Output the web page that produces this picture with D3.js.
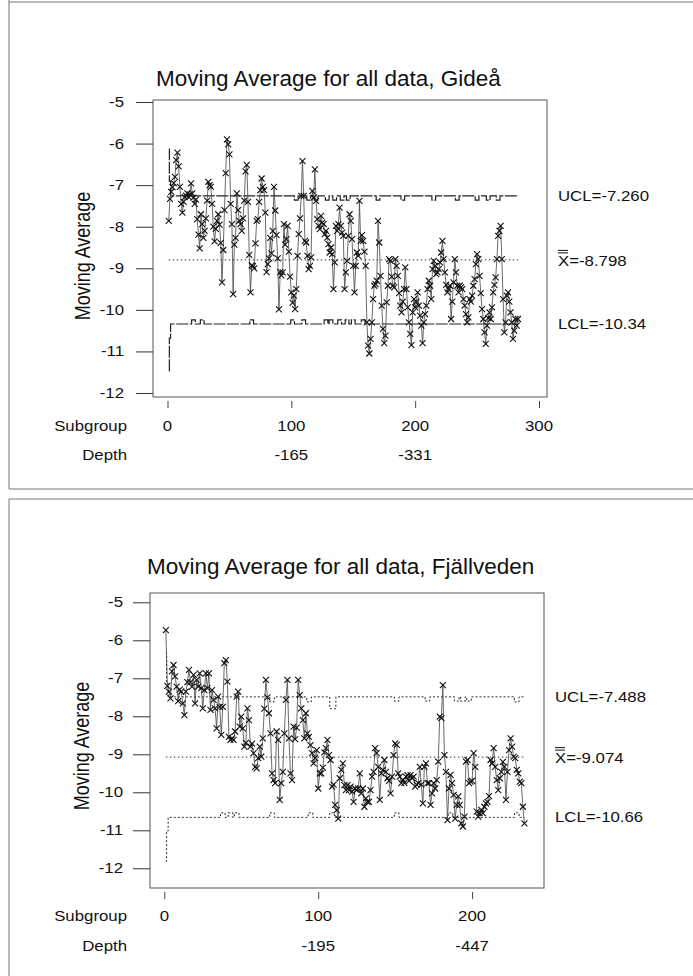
<!DOCTYPE html>
<html>
<head>
<meta charset="utf-8">
<script src="https://cdn.jsdelivr.net/npm/d3@7"></script>
<style>
  body { margin: 0; background: #fff; }
  svg { display: block; }
  text { font-family: "Liberation Sans", Arial, sans-serif; fill: #111; }
</style>
</head>
<body>
<svg id="chart"></svg>
<script>
// ---- Gideå: moving average per subgroup (subgroup 1..283)
const gideaValues = [
  -7.86, -7.33, -7.16, -7.05, -6.95, -6.80, -6.40, -6.22, -6.55, -7.04,
  -7.45, -7.66, -7.40, -7.29, -7.25, -7.20, -7.28, -7.22, -6.96, -7.20,
  -7.30, -7.45, -7.35, -7.82, -8.19, -8.52, -7.70, -7.94, -8.27, -8.10,
  -7.80, -7.37, -6.92, -7.00, -7.04, -7.45, -8.00, -8.35, -8.05, -7.86,
  -7.70, -7.95, -8.39, -9.34, -8.56, -7.60, -6.71, -5.90, -6.02, -6.26,
  -7.45, -7.94, -9.62, -8.43, -8.27, -7.20, -7.60, -7.86, -7.94, -8.10,
  -7.80, -7.37, -6.67, -6.51, -7.40, -8.68, -9.58, -8.93, -8.95, -9.00,
  -8.40, -7.86, -7.82, -7.40, -7.12, -6.84, -7.04, -7.12, -7.66, -9.09,
  -8.90, -8.76, -8.27, -8.64, -8.10, -7.04, -7.61, -8.20, -8.76, -9.99,
  -9.09, -9.17, -9.10, -7.94, -8.43, -8.30, -7.98, -8.60, -9.20, -9.58,
  -9.83, -9.66, -9.98, -9.50, -8.70, -8.18, -7.80, -7.26, -6.42, -7.26,
  -8.34, -8.38, -8.70, -9.02, -8.94, -8.74, -7.14, -7.30, -6.62, -7.38,
  -7.82, -7.98, -8.06, -7.74, -7.90, -7.94, -8.18, -8.10, -8.26, -8.42,
  -8.62, -8.50, -8.66, -9.50, -8.86, -7.98, -8.10, -7.94, -7.54, -7.98,
  -8.14, -8.22, -9.50, -9.10, -8.82, -8.22, -7.70, -7.86, -8.30, -8.94,
  -9.58, -8.94, -8.62, -8.70, -7.38, -8.34, -8.20, -8.34, -8.60, -8.94,
  -10.30, -10.86, -11.05, -10.70, -10.30, -9.74, -9.42, -9.38, -9.30, -7.86,
  -8.38, -9.18, -9.90, -10.46, -10.80, -10.62, -9.82, -9.42, -8.78, -8.82,
  -9.20, -9.42, -9.46, -8.78, -8.94, -9.18, -9.60, -9.90, -10.06, -9.80,
  -9.50, -8.98, -9.50, -9.94, -10.30, -10.58, -10.85, -10.06, -9.74, -9.94,
  -9.80, -9.58, -9.90, -10.14, -10.38, -10.80, -10.30, -10.10, -9.90, -9.50,
  -9.30, -9.42, -9.74, -9.02, -8.82, -8.94, -9.14, -9.10, -9.02, -8.86,
  -8.62, -8.34, -8.78, -9.10, -9.40, -9.58, -9.50, -9.42, -10.22, -9.80,
  -9.34, -8.78, -9.10, -9.42, -9.58, -9.42, -9.46, -9.50, -9.74, -9.90,
  -10.10, -10.30, -10.18, -9.74, -9.80, -9.66, -9.42, -9.26, -8.90, -8.66,
  -8.78, -9.18, -9.60, -9.98, -10.22, -10.54, -10.82, -10.38, -10.20, -10.06,
  -10.22, -9.94, -9.58, -9.40, -9.22, -8.78, -8.22, -8.10, -7.98, -8.78,
  -9.74, -10.54, -10.30, -9.66, -9.58, -9.80, -10.06, -10.30, -10.70, -10.50,
  -10.22, -10.38, -10.22
];
const gideaCenter = -8.798;
const gideaUCL = -7.260;
const gideaLCL = -10.34;
const gideaUCLHead = [-6.13, -6.91];     // wider limits for the first subgroups
const gideaLCLHead = [-11.46, -10.68];
const gideaUCLNotches = [[103,105,-7.36],[113,115,-7.36],[119,121,-7.36],[128,130,-7.36],[134,136,-7.36],
  [140,142,-7.36],[145,147,-7.36],[169,171,-7.36],[189,191,-7.36],[214,216,-7.36],[233,235,-7.36],
  [249,251,-7.36],[258,260,-7.36],[266,268,-7.36]];
const gideaLCLNotches = [[20,22,-10.24],[27,29,-10.24],[67,69,-10.24],[100,102,-10.24],[109,111,-10.24],
  [127,129,-10.24],[131,133,-10.24],[138,140,-10.24],[144,146,-10.24],[149,151,-10.24],[157,159,-10.24]];
const gideaSubgroupTicks = [0, 100, 200, 300];
const gideaDepthTicks = [100, 200];
const gideaDepthLabels = ["-165", "-331"];

// ---- Fjällveden: moving average per subgroup (subgroup 1..234)
const fjallValues = [
  -5.73, -7.20, -7.35, -7.53, -6.82, -6.65, -6.95, -7.22, -7.60, -7.30,
  -7.35, -7.66, -7.97, -7.35, -7.10, -6.78, -7.10, -7.22, -6.91, -7.66,
  -7.04, -7.22, -6.87, -7.26, -7.79, -7.31, -6.87, -7.26, -6.87, -7.83,
  -7.31, -7.57, -7.79, -8.32, -7.48, -7.75, -8.49, -7.75, -6.60, -6.52,
  -7.09, -8.54, -8.62, -8.58, -8.62, -8.40, -7.48, -7.35, -8.27, -8.01,
  -8.32, -8.80, -8.70, -7.79, -8.10, -8.80, -8.72, -8.97, -9.33, -9.37,
  -9.10, -8.80, -9.06, -8.58, -7.80, -7.04, -7.50, -7.92, -8.45, -9.50,
  -9.68, -9.76, -8.40, -8.62, -10.20, -9.76, -9.46, -8.45, -7.57, -7.04,
  -8.58, -9.50, -9.68, -8.27, -8.60, -8.30, -7.04, -7.44, -7.79, -8.10,
  -8.58, -7.92, -8.45, -8.54, -8.76, -8.97, -9.24, -9.10, -8.89, -9.90,
  -9.50, -9.50, -9.35, -8.95, -8.84, -8.62, -9.02, -9.15, -9.85, -9.80,
  -10.33, -10.47, -10.69, -9.63, -9.41, -9.24, -9.81, -9.94, -9.81, -9.94,
  -9.85, -9.98, -10.25, -9.90, -9.94, -9.90, -9.50, -10.03, -9.90, -10.38,
  -10.16, -10.25, -10.25, -9.94, -9.59, -9.46, -8.84, -8.97, -9.33, -10.20,
  -9.50, -9.41, -9.15, -9.46, -9.63, -9.70, -10.03, -9.59, -9.02, -8.71,
  -8.75, -9.50, -9.59, -9.76, -9.68, -9.75, -9.59, -9.55, -9.70, -9.55,
  -9.63, -9.59, -9.85, -9.80, -9.76, -9.33, -9.80, -10.29, -9.33, -9.24,
  -9.76, -9.76, -10.33, -10.03, -9.76, -9.90, -9.68, -9.19, -8.01, -8.05,
  -7.18, -9.02, -9.46, -10.73, -9.90, -9.54, -9.76, -10.07, -10.69, -10.33,
  -10.11, -10.33, -10.82, -10.90, -10.64, -9.19, -9.15, -9.76, -9.72, -9.70,
  -8.97, -9.33, -10.51, -10.64, -10.55, -10.46, -10.55, -10.38, -10.29, -10.25,
  -10.10, -9.15, -9.24, -8.84, -9.33, -9.68, -9.94, -9.63, -9.46, -9.20,
  -9.33, -10.20, -9.46, -8.89, -8.58, -8.80, -9.06, -9.10, -9.41, -9.50,
  -9.72, -9.76, -10.38, -10.82
];
const fjallCenter = -9.074;
const fjallUCL = -7.488;
const fjallLCL = -10.66;
const fjallUCLHead = [-6.33, -7.13];
const fjallLCLHead = [-11.82, -11.02];
const fjallUCLNotches = [[69,71,-7.62],[93,95,-7.62],[108,111,-7.80],[150,152,-7.60],[170,172,-7.60],
  [189,191,-7.60],[193,195,-7.60],[197,199,-7.60],[228,230,-7.62]];
const fjallLCLNotches = [[37,39,-10.54],[42,44,-10.54],[46,48,-10.54],[69,71,-10.54],[94,96,-10.54],
  [108,110,-10.54],[150,152,-10.54],[185,187,-10.54],[228,230,-10.54]];
const fjallSubgroupTicks = [0, 100, 200];
const fjallDepthTicks = [100, 200];
const fjallDepthLabels = ["-195", "-447"];

const yTicks = [-5, -6, -7, -8, -9, -10, -11, -12];

const width = 693, height = 976;
const stretch = "scale(1.2,1)";   // the scanned labels are wider than tall
const svg = d3.select("#chart").attr("width", width).attr("height", height);

// scanned page borders
const border = svg.append("g").attr("stroke", "#777").attr("stroke-width", 1).attr("fill", "none");
border.append("path").attr("d", "M9,2H693M9,0V489M9,489H693");
border.append("path").attr("d", "M9,499H693M9,499V976");

function label(g, x, y, txt, size, anchor) {
  return g.append("text")
    .attr("transform", `translate(${x},${y}) ${stretch}`)
    .attr("text-anchor", anchor || "start")
    .style("font-size", size + "px")
    .text(txt);
}

function limitSeries(n, base, head, notches) {
  const pts = [];
  for (let s = 1; s <= n; s++) {
    let v = base;
    if (s <= head.length) v = head[s - 1];
    for (const [a, b, lv] of notches) if (s >= a && s <= b) v = lv;
    pts.push([s, v]);
  }
  return pts;
}

function drawPanel(p) {
  const g = svg.append("g");
  const x = d3.scaleLinear().domain(p.xDomain).range(p.xRange);
  const y = d3.scaleLinear().domain([-5, -12]).range(p.yRange);
  const n = p.values.length;

  g.append("text")
    .attr("x", p.titleX).attr("y", p.titleY)
    .style("font-size", "22.5px")
    .text(p.title);

  // frame
  g.append("rect")
    .attr("x", p.frame[0]).attr("y", p.frame[1])
    .attr("width", p.frame[2] - p.frame[0]).attr("height", p.frame[3] - p.frame[1])
    .attr("fill", "none").attr("stroke", "#555").attr("stroke-width", 1);

  // y axis
  const yAxis = g.append("g")
    .attr("transform", `translate(${p.frame[0]},0)`)
    .call(d3.axisLeft(y).tickValues(yTicks).tickSize(17).tickFormat(d => String(d)));
  yAxis.select(".domain").remove();
  yAxis.selectAll("line").attr("stroke", "#333");
  yAxis.selectAll("text")
    .attr("x", 0)
    .attr("transform", `translate(${p.yLabelRight - p.frame[0]},0) ${stretch}`)
    .style("font-size", "14px")
    .style("font-family", "'Liberation Sans', Arial, sans-serif")
    .attr("fill", "#111");

  g.append("text")
    .attr("transform", `translate(${p.yLabelX},${p.yLabelY}) ${stretch} rotate(-90)`)
    .attr("text-anchor", "middle")
    .style("font-size", "18px")
    .text("Moving Average");

  // x ticks (below the frame) and label rows
  const xAxis = g.append("g")
    .attr("transform", `translate(0,${p.frame[3] + 4})`)
    .call(d3.axisBottom(x).tickValues(p.subgroupTicks).tickSize(7).tickFormat(""));
  xAxis.select(".domain").remove();
  xAxis.selectAll("line").attr("stroke", "#444");

  label(g, 127, p.row1Y, "Subgroup", 14, "end");
  label(g, 127, p.row2Y, "Depth", 14, "end");
  p.subgroupTicks.forEach(d => label(g, x(d), p.row1Y, String(d), 14, "middle"));
  p.depthTicks.forEach((d, i) => label(g, x(d), p.row2Y, p.depthLabels[i], 14, "middle"));

  // control limits
  const stepLine = d3.line().x(d => x(d[0])).y(d => y(d[1])).curve(d3.curveStep);
  const ucl = limitSeries(n, p.ucl, p.uclHead, p.uclNotches);
  const lcl = limitSeries(n, p.lcl, p.lclHead, p.lclNotches);
  g.append("path").datum(ucl).attr("d", stepLine)
    .attr("fill", "none").attr("stroke", "#222").attr("stroke-width", p.limitWidth)
    .attr("stroke-dasharray", p.limitDash);
  g.append("path").datum(lcl).attr("d", stepLine)
    .attr("fill", "none").attr("stroke", "#222").attr("stroke-width", p.limitWidth)
    .attr("stroke-dasharray", p.limitDash);
  g.append("line")
    .attr("x1", x(1)).attr("x2", x(n))
    .attr("y1", y(p.center)).attr("y2", y(p.center))
    .attr("stroke", "#333").attr("stroke-width", 1).attr("stroke-dasharray", "1.5,2.5");

  // moving average series
  const pts = p.values.map((v, i) => [i + 1, v]);
  g.append("path").datum(pts)
    .attr("d", d3.line().x(d => x(d[0])).y(d => y(d[1])))
    .attr("fill", "none").attr("stroke", "#444").attr("stroke-width", 0.8);
  g.selectAll(".mark").data(pts).join("path")
    .attr("transform", d => `translate(${x(d[0])},${y(d[1])})`)
    .attr("d", "M-3,-3L3,3M-3,3L3,-3")
    .attr("stroke", "#111").attr("stroke-width", 1.1).attr("fill", "none");

  // limit labels
  const lx = p.frame[2] + 11;
  label(g, lx, y(p.ucl) + 5, "UCL=" + p.uclText, 14);
  label(g, lx, y(p.center) + 6, "X=" + p.centerText, 14);
  g.append("path")
    .attr("d", `M${lx},${y(p.center) - 9.5}h10M${lx},${y(p.center) - 7}h10`)
    .attr("stroke", "#111").attr("stroke-width", 1);
  label(g, lx, y(p.lcl) + 5, "LCL=" + p.lclText, 14);
}

drawPanel({
  title: "Moving Average for all data, Gideå",
  titleX: 156, titleY: 86,
  frame: [153, 100, 547, 397],
  xDomain: [0, 300], xRange: [167.5, 539],
  yRange: [102, 393],
  yLabelRight: 124,
  yLabelX: 90, yLabelY: 256,
  row1Y: 431, row2Y: 460,
  values: gideaValues,
  center: gideaCenter, ucl: gideaUCL, lcl: gideaLCL,
  uclHead: gideaUCLHead, lclHead: gideaLCLHead,
  uclNotches: gideaUCLNotches, lclNotches: gideaLCLNotches,
  uclText: "-7.260", centerText: "-8.798", lclText: "-10.34",
  limitDash: "12,1.5", limitWidth: 1.2,
  subgroupTicks: gideaSubgroupTicks, depthTicks: gideaDepthTicks, depthLabels: gideaDepthLabels
});

drawPanel({
  title: "Moving Average for all data, Fjällveden",
  titleX: 147, titleY: 574,
  frame: [150, 593, 544, 888],
  xDomain: [0, 200], xRange: [164.3, 472.1],
  yRange: [602.3, 868.3],
  yLabelRight: 123,
  yLabelX: 89, yLabelY: 746,
  row1Y: 921, row2Y: 951,
  values: fjallValues,
  center: fjallCenter, ucl: fjallUCL, lcl: fjallLCL,
  uclHead: fjallUCLHead, lclHead: fjallLCLHead,
  uclNotches: fjallUCLNotches, lclNotches: fjallLCLNotches,
  uclText: "-7.488", centerText: "-9.074", lclText: "-10.66",
  limitDash: "2,2", limitWidth: 1,
  subgroupTicks: fjallSubgroupTicks, depthTicks: fjallDepthTicks, depthLabels: fjallDepthLabels
});
</script>
</body>
</html>
